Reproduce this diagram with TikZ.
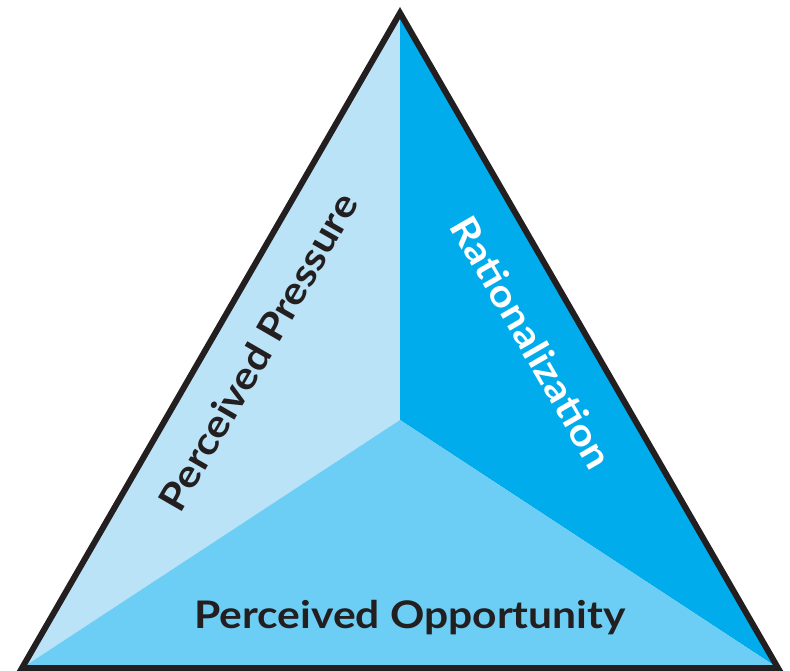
\documentclass[tikz,border=0pt]{standalone}
\usepackage{fontspec}
\setmainfont{Lato}
\newfontfamily\labelfont[FakeStretch=1.12]{Lato}
\usepackage{tikz}

\definecolor{facelight}{RGB}{187,227,247}
\definecolor{facedark}{RGB}{0,172,236}
\definecolor{facemid}{RGB}{108,206,245}
\definecolor{edgeblack}{RGB}{35,31,32}

\tikzset{
  facelabel/.style={font=\labelfont\fontsize{38}{44}\selectfont\bfseries, inner sep=0pt},
}

\begin{document}
\begin{tikzpicture}[x=1pt,y=-1pt]
\useasboundingbox (0,0) rectangle (790,671);
\coordinate (apex) at (400,13);
\coordinate (left) at (22,668);
\coordinate (right) at (778,668);
\coordinate (mid) at (400,420);
% three faces
  \fill[facelight] (apex) -- (mid) -- (left) -- cycle;
  \fill[facedark] (apex) -- (right) -- (mid) -- cycle;
  \fill[facemid] (left) -- (mid) -- (right) -- cycle;
% outline
  \draw[edgeblack,line width=6pt,line join=miter] (apex) -- (left) -- (right) -- cycle;
% labels
\node[facelabel,text=edgeblack,rotate=60] (pressure) at (258,352) {Perceived Pressure};
\node[facelabel,text=white,rotate=-60] (rational) at (532,342) {Rationalization};
\node[facelabel,text=edgeblack,anchor=base] (opportunity) at (410,628) {Perceived Opportunity};
\end{tikzpicture}
\end{document}
